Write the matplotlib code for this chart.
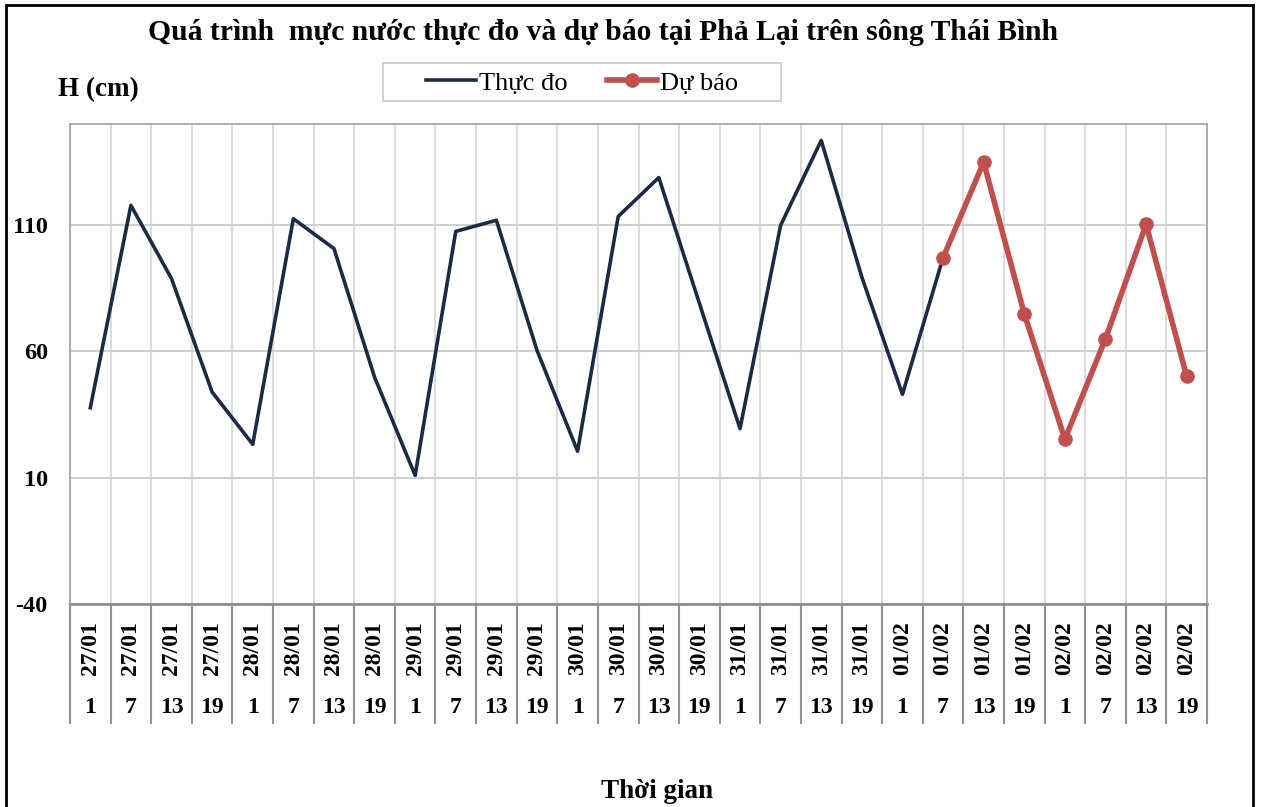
import matplotlib.pyplot as plt
import matplotlib.transforms as mtransforms
from matplotlib.patches import Rectangle

plt.rcParams['font.family'] = ['Liberation Serif', 'DejaVu Serif']
plt.rcParams['font.weight'] = 'bold'
plt.rcParams['axes.unicode_minus'] = False

days = ["27/01"] * 4 + ["28/01"] * 4 + ["29/01"] * 4 + ["30/01"] * 4 + \
       ["31/01"] * 4 + ["01/02"] * 4 + ["02/02"] * 4
hours = ["1", "7", "13", "19"] * 7

# measured water level (cm), 27/01 1h -> 01/02 7h
observed = [37.7, 117.8, 88.8, 43.9, 23.2, 112.5, 100.7, 49.8, 10.9, 107.5, 111.9,
            60.4, 20.5, 113.4, 128.8, 79.0, 29.4, 109.9, 143.5, 89.4, 43.0, 97.1]
# forecast water level (cm), 01/02 7h -> 02/02 19h
forecast = [97.1, 134.9, 74.9, 25.2, 65.0, 110.3, 50.1]

n = len(days)
x_obs = list(range(len(observed)))
x_fc = list(range(len(observed) - 1, n))

W, H = 1263, 807
fig = plt.figure(figsize=(W / 100, H / 100), dpi=100)
ax = fig.add_axes([70 / W, (H - 604) / H, (1207 - 70) / W, 480 / H])

navy = "#1b2a45"
red = "#c0504d"
ax.plot(x_obs, observed, color=navy, lw=2.6, label="Thực đo", zorder=3)
ax.plot(x_fc, forecast, color=red, lw=4, marker="o", ms=9.5, label="Dự báo", zorder=4)

ax.set_xlim(-0.5, n - 0.5)
ax.set_ylim(-40, 150)
ax.set_yticks([-40, 10, 60, 110])
ax.set_xticks([i + 0.5 for i in range(-1, n)], minor=True)
ax.set_xticks([])
ax.grid(True, axis="y", color="#d0d0d0", lw=1.5)
ax.grid(True, axis="x", which="minor", color="#dcdcdc", lw=1.5)
ax.tick_params(axis="y", length=0, labelsize=17.5, pad=16)
ax.tick_params(axis="x", which="both", length=0)
for s in ax.spines.values():
    s.set_color("#a0a0a0")
    s.set_linewidth(1.2)
ax.spines["bottom"].set_color("#909090")
ax.spines["bottom"].set_linewidth(2)
for lbl in ax.get_yticklabels():
    lbl.set_fontweight("bold")

# multi-level category axis
trans = mtransforms.blended_transform_factory(ax.transData, ax.transAxes)
for i in range(n + 1):
    ax.plot([i - 0.5, i - 0.5], [0, -0.248], transform=trans, color="#909090",
            lw=1.5, clip_on=False)
for i in range(n):
    ax.text(i, -0.092, days[i], transform=trans, rotation=90, ha="center",
            va="center", fontsize=17, fontweight="bold")
    ax.text(i, -0.215, hours[i], transform=trans, ha="center", va="center",
            fontsize=17, fontweight="bold")

fig.text(603 / W, 1 - 33 / H, "Quá trình  mực nước thực đo và dự báo tại Phả Lại trên sông Thái Bình",
         ha="center", va="center", fontsize=21.3, fontweight="bold")
fig.text(58 / W, 1 - 90 / H, "H (cm)", ha="left", va="center", fontsize=19.5, fontweight="bold")
fig.text(657 / W, 1 - 792 / H, "Thời gian", ha="center", va="center", fontsize=19.5, fontweight="bold")

# legend box drawn separately (Excel-style wide frame)
fig.patches.append(Rectangle((383 / W, 1 - 101 / H), (781 - 383) / W, 38 / H,
                             transform=fig.transFigure, fill=False, edgecolor="#c8c8c8",
                             lw=1.2, zorder=5))
leg = fig.legend(loc="center", bbox_to_anchor=(582 / W, 1 - 83 / H), ncol=2, frameon=False,
                 fontsize=19, handlelength=1.9, columnspacing=1.5, handletextpad=0.1,
                 borderpad=0.2)
for t in leg.get_texts():
    t.set_fontweight("normal")

fig.patches.append(Rectangle((6 / W, -0.05), (1253 - 6) / W, 1.05 - 5 / H,
                             transform=fig.transFigure, fill=False, edgecolor="black",
                             lw=2, zorder=10))

fig.savefig("out.png", dpi=100)
